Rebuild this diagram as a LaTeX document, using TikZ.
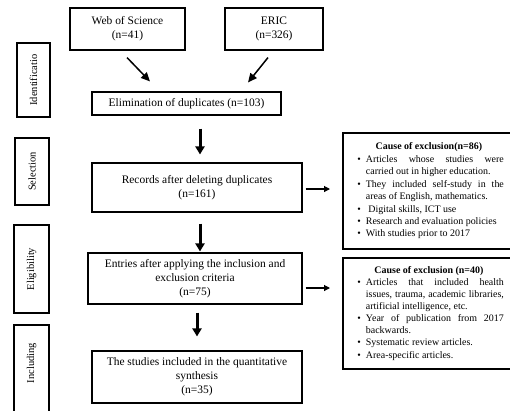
\documentclass[tikz,border=0pt]{standalone}
\usepackage{fontspec}
\setmainfont{Liberation Serif}
\usetikzlibrary{arrows.meta}
\newcommand\bitem[1]{\par\noindent\hangindent=12bp\hangafter=0\llap{\textbullet\hspace{5bp}}#1\par}
\begin{document}
\begin{tikzpicture}[x=1bp,y=-1bp,
  box/.style={draw, line width=1.1bp, align=center, inner sep=2bp, font=\fontsize{11.5}{14}\selectfont},
  side/.style={draw, line width=1.8bp, rotate=90, inner sep=1bp, font=\fontsize{10.5}{12}\selectfont},
  sidetext/.style={rotate=90, inner sep=1bp, font=\fontsize{10.5}{12}\selectfont},
  cause/.style={draw, line width=1.8bp, anchor=north west, text width=150bp, inner xsep=11bp, inner ysep=0bp, align=justify},
  arr/.style={-{Triangle[length=6bp,width=6bp]}, line width=1.1bp},
  diag/.style={-{Triangle[length=9bp,width=8bp]}, line width=1.5bp},
  bigarr/.style={-{Triangle[length=8bp,width=9bp]}, line width=3bp}]
\useasboundingbox (0,0) rectangle (510,410);
% side labels
\node[side, minimum width=74bp, minimum height=33bp] (s1) at (33.5,80) {Identificatio};
\node[side, minimum width=67bp, minimum height=34bp] (s2) at (32,171.5) {Selection};
\node[side, minimum width=88bp, minimum height=35bp] (s3) at (31.5,269) {Eligibility};
\node[side, minimum width=91bp, minimum height=35bp] (s4) at (31.5,370.5) {};
\node[sidetext] (s4t) at (31.5,363) {Including};
% main boxes
\node[box, minimum width=115bp, minimum height=42bp] (wos) at (127.5,29) {Web of Science\\(n=41)};
\node[box, minimum width=98bp, minimum height=42bp] (eric) at (274,29) {ERIC\\(n=326)};
\node[box, minimum width=189bp, minimum height=23bp] (elim) at (186.5,103.5) {Elimination of duplicates (n=103)};
\node[box, minimum width=210bp, minimum height=49bp] (rec) at (197,187.5) {Records after deleting duplicates\\(n=161)};
\node[box, minimum width=214bp, minimum height=51bp] (ent) at (195,278.5) {Entries after applying the inclusion and\\exclusion criteria\\(n=75)};
\node[box, minimum width=210bp, minimum height=52bp] (fin) at (197,377) {The studies included in the quantitative\\synthesis\\(n=35)};
% exclusion boxes
\node[cause, minimum height=116bp, font=\fontsize{10}{12.5}\selectfont] (c1) at (342,132) {{\centering\textbf{Cause of exclusion(n=86)}\par}
\bitem{Articles whose studies were\linebreak carried out in higher education.}
\bitem{They included self-study in the\linebreak areas of English, mathematics.}
\bitem{\ Digital skills, ICT use}
\bitem{Research and evaluation policies}
\bitem{With studies prior to 2017}};
\node[cause, minimum height=111bp, font=\fontsize{10}{12.1}\selectfont] (c2) at (342,257) {{\centering\textbf{Cause of exclusion (n=40)}\par}
\bitem{Articles that included health\linebreak issues, trauma, academic libraries,\linebreak artificial intelligence, etc.}
\bitem{Year of publication from 2017\linebreak backwards.}
\bitem{Systematic review articles.}
\bitem{Area-specific articles.}};
% helper coordinates
\coordinate (x200) at (200,0);
\coordinate (x197) at (197,0);
\coordinate (e1) at (330,189);
\coordinate (e2) at (330,288);
% connectors
\draw[diag] ([xshift=-0.5bp,yshift=-7bp]wos.south) -- ([xshift=-36.5bp,yshift=10bp]elim.north);
\draw[diag] ([xshift=-6bp,yshift=-7bp]eric.south) -- ([xshift=61.5bp,yshift=9bp]elim.north);
\draw[bigarr, shorten <=13bp, shorten >=8bp] (elim.south -| x200) -- (rec.north -| x200);
\draw[bigarr, shorten <=11bp, shorten >=1bp] (rec.south -| x200) -- (ent.north -| x200);
\draw[bigarr, shorten <=8bp, shorten >=14bp] (ent.south -| x197) -- (fin.north -| x197);
\draw[arr, shorten <=3bp] (rec.east |- e1) -- (e1);
\draw[arr, shorten <=3bp] (ent.east |- e2) -- (e2);
\end{tikzpicture}
\end{document}
